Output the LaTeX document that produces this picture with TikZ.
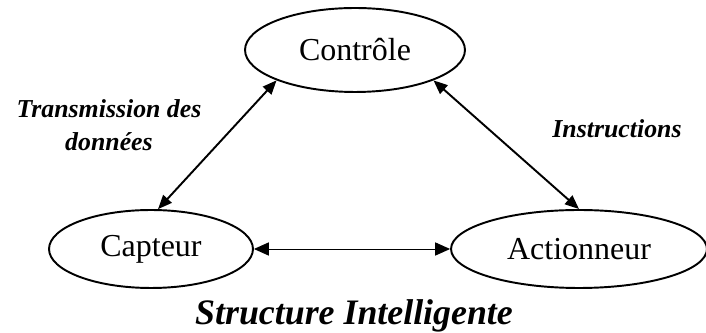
\documentclass[tikz,border=0pt]{standalone}
\usepackage{fontspec}
\setmainfont{Liberation Serif}
\usepackage{tikz}
\usetikzlibrary{positioning,arrows.meta,shapes.geometric}

\begin{document}
\begin{tikzpicture}[
  x=0.02cm, y=-0.02cm,
  bloc/.style={draw, ellipse, line width=1.1pt, inner sep=0pt,
               font=\fontsize{18.2}{20}\selectfont},
  lien/.style={{Triangle[length=8pt,width=6.5pt]}-{Triangle[length=8pt,width=6.5pt]}, line width=1.1pt},
  lienfin/.style={{Triangle[length=8.5pt,width=7.5pt]}-{Triangle[length=8.5pt,width=7.5pt]}, line width=0.5pt},
  ann/.style={font=\fontsize{14.7}{18.7}\selectfont\bfseries\itshape, align=center},
]
\useasboundingbox (0,0) rectangle (706,333);

% --- the three blocks ---
\node[bloc, minimum width=4.4cm, minimum height=1.68cm]  (ctrl) at (355,50)  {Contrôle};
\node[bloc, minimum width=4.08cm, minimum height=1.56cm] (capt) at (151,249) {Capteur};
\node[bloc, minimum width=5.12cm, minimum height=1.56cm] (act)  at (579,249) {Actionneur};

% --- links between blocks ---
\draw[lien] (capt.80) -- (ctrl.south west);
\draw[lien] (ctrl.south east) -- (act.north);
\draw[lienfin] (capt.east) -- (act.west);

% --- labels ---
\node[ann] (ltrans) at (109,125) {Transmission des\\données};
\node[ann] (linstr) at (617,129) {Instructions};
\node[ann, font=\fontsize{20.4}{24}\selectfont\bfseries\itshape] (titre) at (354,316) {Structure Intelligente};
\end{tikzpicture}
\end{document}
